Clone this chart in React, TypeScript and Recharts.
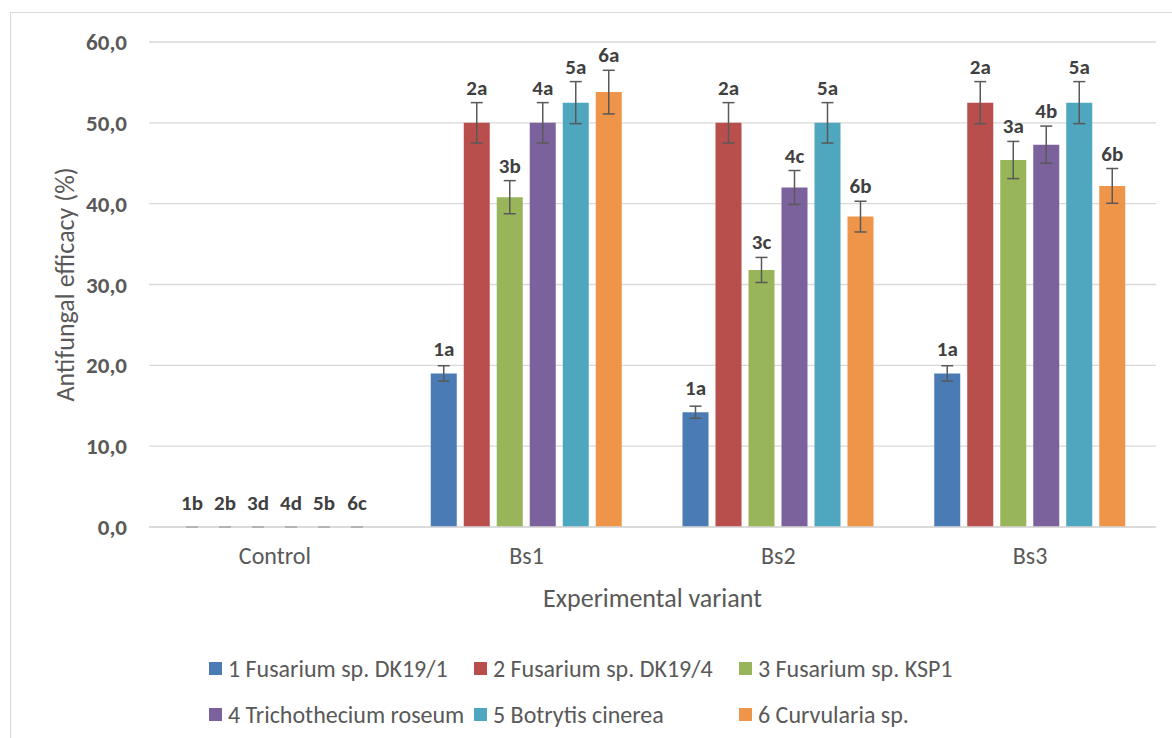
import {
  Bar,
  BarChart,
  CartesianGrid,
  ErrorBar,
  Label,
  Legend,
  XAxis,
  YAxis,
} from 'recharts';

const FONT = 'Calibri, Carlito, Lato, "Open Sans", sans-serif';

const categories = ['Control', 'Bs1', 'Bs2', 'Bs3'];
const yTicks = [0, 10, 20, 30, 40, 50, 60];

const seriesNames = [
  '1 Fusarium sp. DK19/1',
  '2 Fusarium sp. DK19/4',
  '3 Fusarium sp. KSP1',
  '4 Trichothecium roseum',
  '5 Botrytis cinerea',
  '6 Curvularia sp.',
];
const colors = ['#4a7bb4', '#b94f4d', '#98b55a', '#7b629c', '#4ea6bf', '#ee9549'];

const fus1 = [0, 19.0, 14.2, 19.0];
const fus2 = [0, 50.0, 50.0, 52.5];
const fus3 = [0, 40.8, 31.8, 45.4];
const trich = [0, 50.0, 42.0, 47.3];
const botr = [0, 52.5, 50.0, 52.5];
const curv = [0, 53.8, 38.4, 42.2];

const fus1Err = [0, 0.95, 0.75, 0.95];
const fus2Err = [0, 2.5, 2.5, 2.6];
const fus3Err = [0, 2.05, 1.55, 2.3];
const trichErr = [0, 2.5, 2.1, 2.3];
const botrErr = [0, 2.6, 2.5, 2.6];
const curvErr = [0, 2.7, 1.9, 2.15];

const fus1Letters = ['1b', '1a', '1a', '1a'];
const fus2Letters = ['2b', '2a', '2a', '2a'];
const fus3Letters = ['3d', '3b', '3c', '3a'];
const trichLetters = ['4d', '4a', '4c', '4b'];
const botrLetters = ['5b', '5a', '5a', '5a'];
const curvLetters = ['6c', '6a', '6b', '6b'];

const values = [fus1, fus2, fus3, trich, botr, curv];
const errs = [fus1Err, fus2Err, fus3Err, trichErr, botrErr, curvErr];
const letters = [fus1Letters, fus2Letters, fus3Letters, trichLetters, botrLetters, curvLetters];

const data = categories.map((name, i) => {
  const row: Record<string, any> = { name, idx: i };
  values.forEach((v, s) => {
    row[`s${s}`] = v[i];
    row[`e${s}`] = errs[s][i];
  });
  return row;
});

function makeLabel(s: number) {
  return (props: any) => {
    const vb = props.viewBox || props;
    const index = props.payload?.idx ?? props.index;
    const x = vb.x ?? props.x;
    const y = vb.y ?? props.y;
    const width = vb.width ?? props.width;
    const h = vb.height ?? props.height ?? 0;
    const value = values[s][index];
    const top = Math.min(y, y + h);
    const errPx = value > 0 ? (errs[s][index] * Math.abs(h)) / value : 0;
    const cy = top - Math.max(errPx + 15, 24);
    return (
      <g>
        {value === 0 && (
          <line x1={x + width / 2 - 6} x2={x + width / 2 + 6} y1={top} y2={top} stroke="#a6a6a6" strokeWidth={1.5} />
        )}
        <text
          x={x + width / 2}
          y={cy}
          textAnchor="middle"
          dominantBaseline="central"
          fill="#404040"
          fontSize={21}
          fontWeight={700}
          fontFamily={FONT}
        >
          {letters[s][index]}
        </text>
      </g>
    );
  };
}

function LegendGrid() {
  return (
    <div
      style={{
        display: 'grid',
        gridTemplateColumns: '265px 265px 265px',
        fontFamily: FONT,
        fontSize: 24,
        color: '#595959',
      }}
    >
      {seriesNames.map((n, i) => (
        <div key={n} style={{ display: 'flex', alignItems: 'center', height: 46, whiteSpace: 'nowrap' }}>
          <span style={{ width: 13, height: 13, background: colors[i], marginRight: 6, flexShrink: 0 }} />
          {n}
        </div>
      ))}
    </div>
  );
}

export default function App() {
  return (
    <div style={{ position: 'fixed', inset: 0, overflow: 'hidden', background: '#fff' }}>
      <div
        style={{
          position: 'absolute',
          left: 10,
          top: 12,
          width: 1180,
          height: 760,
          border: '1px solid #d9d9d9',
        }}
      >
        <BarChart
          width={1160}
          height={720}
          data={data}
          margin={{ top: 29, right: 15, left: 0, bottom: 166 }}
          barSize={26}
          barGap={7}
        >
          <CartesianGrid vertical={false} stroke="#d9d9d9" strokeWidth={1.3} />
          <XAxis
            dataKey="name"
            height={40}
            tickLine={false}
            axisLine={{ stroke: '#d9d9d9', strokeWidth: 1.3 }}
            tickMargin={14}
            tick={{ fill: '#595959', fontSize: 24, fontFamily: FONT }}
          >
            <Label
              content={(p: any) => {
                const vb = p.viewBox;
                return (
                  <text
                    x={vb.x + vb.width / 2}
                    y={vb.y + vb.height + 31}
                    textAnchor="middle"
                    dominantBaseline="central"
                    fill="#595959"
                    fontSize={26}
                    fontFamily={FONT}
                  >
                    Experimental variant
                  </text>
                );
              }}
            />
          </XAxis>
          <YAxis
            width={138}
            domain={[0, 60]}
            ticks={yTicks}
            tickLine={false}
            axisLine={false}
            tickMargin={16}
            tickFormatter={(v: number) => v.toFixed(1).replace('.', ',')}
            tick={{ fill: '#595959', fontSize: 23, fontWeight: 700, fontFamily: FONT }}
          >
            <Label
              content={(p: any) => {
                const vb = p.viewBox;
                const cx = vb.x + 54;
                const cy = vb.y + vb.height / 2;
                return (
                  <text
                    x={cx}
                    y={cy}
                    transform={`rotate(-90, ${cx}, ${cy})`}
                    textAnchor="middle"
                    dominantBaseline="central"
                    fill="#595959"
                    fontSize={26}
                    fontFamily={FONT}
                  >
                    Antifungal efficacy (%)
                  </text>
                );
              }}
            />
          </YAxis>
          <Legend
            layout="horizontal"
            verticalAlign="middle"
            align="center"
            wrapperStyle={{ left: 198, top: 632, width: 820 }}
            content={() => <LegendGrid />}
          />
          {values.map((_, s) => (
            <Bar
              key={s}
              dataKey={`s${s}`}
              name={seriesNames[s]}
              fill={colors[s]}
              isAnimationActive={false}
              minPointSize={(v: number) => (v === 0 ? 0.01 : 0)}
              label={makeLabel(s)}
            >
              <ErrorBar
                dataKey={`e${s}`}
                width={6}
                stroke="#595959"
                strokeWidth={1.5}
                isAnimationActive={false}
              />
            </Bar>
          ))}
        </BarChart>
      </div>
    </div>
  );
}
